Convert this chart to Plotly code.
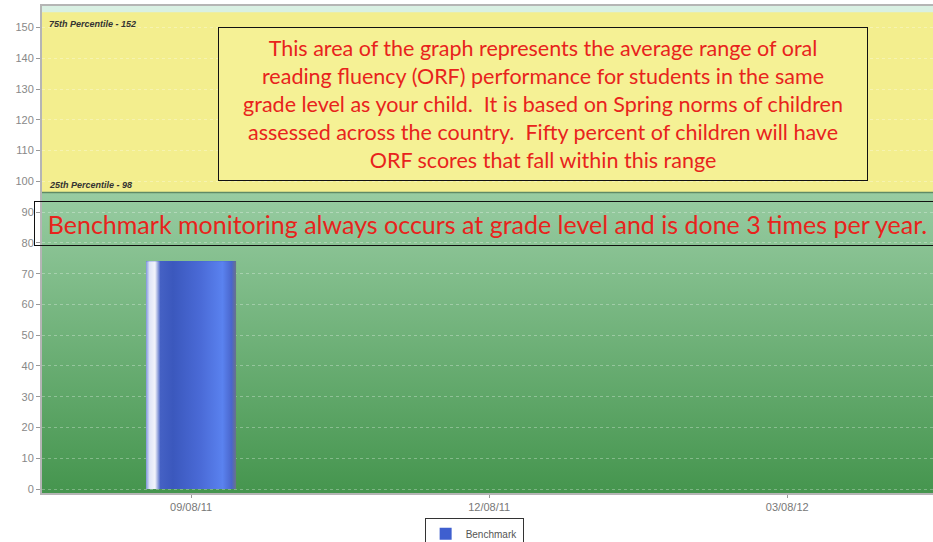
import base64
import pandas as pd
import plotly.graph_objects as go

# data
dates = ['2011-09-08']
scores = [74]
series_name = 'Benchmark'
tick_dates = ['2011-09-08', '2011-12-08', '2012-03-08']
tick_labels = ['09/08/11', '12/08/11', '03/08/12']
pct_low = 96.4
pct_high = 155
pct_low_label = '25th Percentile - 98'
pct_high_label = '75th Percentile - 152'

info_text = ('This area of the graph represents the average range of oral<br>'
             'reading fluency (ORF) performance for students in the same<br>'
             'grade level as your child.  It is based on Spring norms of children<br>'
             'assessed across the country.  Fifty percent of children will have<br>'
             'ORF scores that fall within this range')
bench_text = 'Benchmark monitoring always occurs at grade level and is done 3 times per year.'

bar_days = 27.5
half = pd.Timedelta(days=bar_days / 2)

# vertical green gradient as svg image for the area below the percentile band
svg = ('<svg xmlns="http://www.w3.org/2000/svg" width="10" height="100" preserveAspectRatio="none">'
       '<defs><linearGradient id="g" x1="0" y1="0" x2="0" y2="1">'
       '<stop offset="0" stop-color="#98cca2"/><stop offset="1" stop-color="#45954e"/>'
       '</linearGradient></defs><rect width="10" height="100" fill="url(#g)"/></svg>')
green_src = 'data:image/svg+xml;base64,' + base64.b64encode(svg.encode()).decode()

fig = go.Figure()
fig.add_trace(go.Bar(x=dates, y=scores, name=series_name, width=bar_days * 86400000,
                     marker=dict(color='#3f5fcf', line=dict(width=0))))

# cylinder-like shading over the bar
for d, v in zip(dates, scores):
    x0 = pd.Timestamp(d) - half
    x1 = pd.Timestamp(d) + half
    fig.add_trace(go.Scatter(
        x=[x0, x1, x1, x0, x0], y=[0, 0, v, v, 0], mode='lines', fill='toself',
        line=dict(width=0), showlegend=False, hoverinfo='skip',
        fillgradient=dict(type='horizontal', colorscale=[
            [0, '#7f95dc'], [0.04, '#dfe5f7'], [0.1, '#f2f4fb'], [0.16, '#4561c4'],
            [0.3, '#3b58bd'], [0.6, '#4a6ad6'], [0.85, '#5a82ef'], [0.95, '#4a66cc'],
            [1, '#6b7388']])))

fig.add_layout_image(dict(source=green_src, xref='paper', yref='y', x=0, y=pct_low,
                          sizex=1, sizey=pct_low + 1.3, sizing='stretch',
                          xanchor='left', yanchor='top', layer='below'))
fig.add_shape(type='rect', xref='paper', yref='y', x0=0, x1=1, y0=pct_low, y1=pct_high,
              fillcolor='#f3ee8e', line=dict(width=0), layer='below')
fig.add_shape(type='line', xref='paper', yref='y', x0=0, x1=1, y0=pct_low, y1=pct_low,
              line=dict(color='#5f8a66', width=1.5), layer='below')

fig.add_annotation(text='<i><b>' + pct_high_label + '</b></i>', xref='paper', yref='y',
                   x=0.006, y=151.1, xanchor='left', yanchor='middle', showarrow=False,
                   font=dict(family='Liberation Sans', size=9, color='#333333'))
fig.add_annotation(text='<i><b>' + pct_low_label + '</b></i>', xref='paper', yref='y',
                   x=0.006, y=98.8, xanchor='left', yanchor='middle', showarrow=False,
                   font=dict(family='Liberation Sans', size=9, color='#333333'))

fig.add_annotation(text=info_text, xref='paper', yref='paper', x=0.5623, y=0.799,
                   xanchor='center', yanchor='middle', showarrow=False,
                   width=648, height=152, bgcolor='#f5f195', bordercolor='#111111',
                   borderwidth=1, borderpad=0, align='center',
                   font=dict(family='Lato', size=21.5, color='#e8231c'))
fig.add_annotation(text=bench_text, xref='paper', yref='paper', x=0.5, y=0.553,
                   xanchor='center', yanchor='middle', showarrow=False,
                   width=905, height=43, bordercolor='#111111', borderwidth=1,
                   borderpad=0, align='center',
                   font=dict(family='Lato', size=25, color='#e8231c'))

fig.update_layout(
    width=933, height=542,
    margin=dict(l=42, r=0, t=6, b=49, autoexpand=False),
    paper_bgcolor='white',
    plot_bgcolor='#d9f0e3',
    showlegend=True,
    legend=dict(orientation='h', x=0.485, y=-0.052, xanchor='center', yanchor='top',
                bordercolor='#333333', borderwidth=1, bgcolor='white',
                font=dict(family='Liberation Sans', size=10, color='#555555'),
                itemwidth=30, tracegroupgap=0),
    bargap=0,
)
fig.update_xaxes(type='date', range=['2011-07-24T12:00', '2012-04-21T12:00'],
                 tickvals=tick_dates, ticktext=tick_labels, ticks='outside', ticklen=3,
                 tickcolor='#999999', showgrid=False, showline=True, linecolor='#b5b5b5',
                 linewidth=2, mirror=True,
                 tickfont=dict(family='Liberation Sans', size=11, color='#777777'))
fig.update_yaxes(range=[-1.3, 157], dtick=10, tick0=0, ticks='outside', ticklen=4,
                 tickcolor='#999999', showline=True, linecolor='#b5b5b5', linewidth=2,
                 showgrid=True, gridcolor='rgba(255,255,255,0.3)', griddash='3px,3px',
                 zeroline=False,
                 tickfont=dict(family='Liberation Sans', size=11, color='#888888'))

fig.write_html('out.html', config={'displayModeBar': False},
               post_script="document.body.style.margin='0';")
